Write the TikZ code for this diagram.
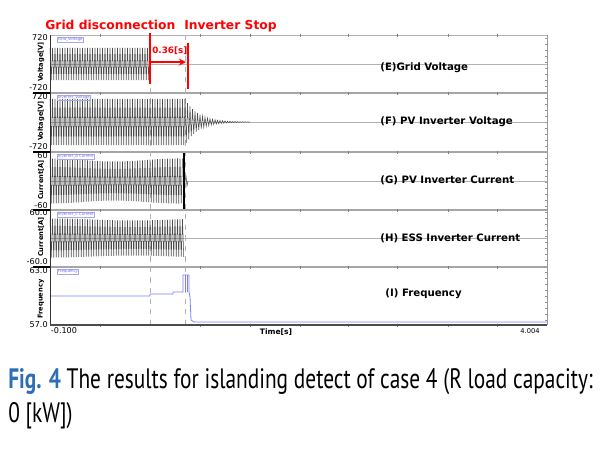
\documentclass[tikz,border=0pt]{standalone}
\usepackage{fontspec}
\setmainfont{DejaVu Sans}
\newfontfamily\capfont[FakeStretch=0.76]{PT Sans}
\usetikzlibrary{arrows,positioning}
\definecolor{figblue}{RGB}{46,110,180}
\definecolor{freqblue}{RGB}{125,125,255}
\definecolor{legblue}{RGB}{110,110,230}

\begin{document}
\begin{tikzpicture}[x=0.02cm, y=-0.02cm, >=stealth]
	\tikzstyle{redlab} = [text=red, font=\bfseries\fontsize{7}{8}\selectfont, inner sep=0pt]
	\tikzstyle{trace} = [font=\bfseries\fontsize{5.8}{6}\selectfont, inner sep=0pt, anchor=base west]
	\tikzstyle{ylab} = [font=\bfseries\fontsize{3.8}{4}\selectfont, inner sep=0pt, rotate=90]
	\tikzstyle{ynum} = [font=\fontsize{4.6}{5}\selectfont, inner sep=0pt, anchor=east]
	\tikzstyle{legend} = [draw=legblue!60, text=legblue, font=\fontsize{2.2}{2.5}\selectfont, inner sep=0.4pt, anchor=north west]
	\tikzstyle{wave} = [black!70, line width=0.3pt]
	\tikzstyle{sep} = [gray!70, line width=0.9pt]
	\tikzstyle{zero} = [gray!60, line width=0.4pt]
	\tikzstyle{redmark} = [red, line width=1.2pt]
	\useasboundingbox (0,0) rectangle (605,450);

	% frame and panel separators
	\draw[gray!60, line width=0.4pt] (50,35) -- (547,35);
	\draw[gray!80, line width=0.5pt] (547,35) -- (547,325);
	\foreach \y in {93,152,210,267} {
	  \draw[sep] (50,\y) -- (547,\y);
	  \draw[black, line width=0.6pt] (33,\y) -- (50,\y);
	}
	\foreach \y in {64,122,181,238}
	  \draw[zero] (50,\y) -- (547,\y);
	\foreach \x in {100,200,250,300,348,397,448,497}
	  \foreach \y in {35,93,152,210,267,325}
	    \draw[gray, line width=0.4pt] (\x,\y-1.5) -- (\x,\y+1.5);
	\foreach \y in {38,44,...,322}
	  \draw[gray!80, line width=0.3pt] (545,\y) -- (547,\y);
	\draw[gray!60, dashed, line width=0.3pt] (150,35) -- (150,325);
	\draw[gray!60, dashed, line width=0.3pt] (185,35) -- (185,325);

	% (E) grid voltage
	\draw[wave] plot[domain=0:80, samples=81, variable=\k] ({50+1.25*\k}, {64-16*cos(180*mod(\k,2))});
	% (F) PV inverter voltage
	\draw[wave] plot[domain=0:108, samples=109, variable=\k] ({50+1.25*\k}, {122-23*cos(180*mod(\k,2))});
	\draw[wave] plot[domain=108:160, samples=53, variable=\k] ({50+1.25*\k}, {122-23*exp(-(1.25*\k-135)/13)*cos(180*mod(\k,2))});
	% (G) PV inverter current
	\draw[wave] plot[domain=0:106, samples=107, variable=\k] ({50+1.25*\k}, {181-(21+1.5*cos(3.5*\k))*cos(180*mod(\k,2))});
	\draw[black, line width=0.7pt] (184,153) -- (184,209);
	\draw[wave] (185,181) -- (186,176) -- (187,186) -- (188,181);
	% (H) ESS inverter current
	\draw[wave] plot[domain=0:107, samples=108, variable=\k] ({50+1.25*\k}, {238-(18.5+1*cos(2.7*\k))*cos(180*mod(\k,2))});
	% (I) frequency
	\draw[freqblue, line width=0.45pt] (50,296) -- (150,296) -- (150,294) -- (173,294) -- (173,292)
	  -- (183,292) -- (183,275) -- (189,275) -- (189,292) -- (190,297) -- (191,320) -- (194,322) -- (547,322);
	\draw[freqblue, line width=0.45pt] (185,275) -- (185,292) (187,275) -- (187,292);

	% left and bottom axes
	\draw[black!80, line width=0.5pt] (50,35) -- (50,325);
	\draw[black!70, line width=0.6pt] (50,325) -- (547,325);

	% legend boxes
	\path
	node[legend] (legE) at (57,37) {Grid\_Voltage}
	node[legend] (legF) at (57,95) {Inverter\_Voltage}
	node[legend] (legG) at (57,154) {Inverter\_A Current}
	node[legend] (legH) at (57,212) {Inverter\_C Current}
	node[legend] (legI) at (57,269) {Frequency}
	;

	% axis numbers and titles
	\path
	node[ynum] (eTop) at (48,38) {720}
	node[ynum] (eBot) at (48,88) {-720}
	node[ynum] (fTop) at (48,97) {720}
	node[ynum] (fBot) at (48,147) {-720}
	node[ynum] (gTop) at (48,156) {60}
	node[ynum] (gBot) at (48,206) {-60}
	node[ynum] (hTop) at (48,213) {60.0}
	node[ynum] (hBot) at (48,262) {-60.0}
	node[ynum] (iTop) at (48,271) {63.0}
	node[ynum] (iBot) at (48,325) {57.0}
	node[ylab] (eY) at (41,62) {Voltage[V]}
	node[ylab] (fY) at (41,121) {Voltage[V]}
	node[ylab] (gY) at (41,180) {Current[A]}
	node[ylab] (hY) at (41,237) {Current[A]}
	node[ylab] (iY) at (41,299) {Frequency}
	node[ynum, anchor=center] (tMin) at (64,331) {-0.100}
	node[ynum, anchor=center, font=\bfseries\fontsize{4.3}{5}\selectfont] (tLab) at (276,332) {Time[s]}
	node[ynum, anchor=center, font=\fontsize{3.8}{4}\selectfont] (tMax) at (530,331) {4.004}
	;

	% trace names
	\path
	node[trace] (nE) at (380,70) {(E)Grid Voltage}
	node[trace] (nF) at (380,124) {(F) PV Inverter Voltage}
	node[trace] (nG) at (380,183) {(G) PV Inverter Current}
	node[trace] (nH) at (380,241) {(H) ESS Inverter Current}
	node[trace] (nI) at (385,296) {(I) Frequency}
	;

	% disconnection and stop markers
	\coordinate (discTop) at (150,33);
	\coordinate (discBot) at (150,84);
	\coordinate (stopTop) at (188,43);
	\coordinate (stopBot) at (188,89);
	\coordinate (arrL) at (151,62);
	\coordinate (arrR) at (186,62);
	\draw[redmark] (discTop) -- (discBot);
	\draw[redmark] (stopTop) -- (stopBot);
	\draw[red, line width=0.8pt, ->] (arrL) -- (arrR);
	\path
	node[redlab, anchor=base west] (gridDisc) at (45,29) {Grid disconnection}
	node[redlab, anchor=base west] (invStop) at (184,29) {Inverter Stop}
	node[redlab, anchor=base west, font=\bfseries\fontsize{5}{6}\selectfont] (delay) at (152,53) {0.36[s]}
	;

	% caption
	\path
	node[anchor=base west, inner sep=0pt, font=\capfont\fontsize{16}{20}\selectfont] (cap1) at (8,388)
	  {{\color{figblue}\bfseries Fig. 4} The results for islanding detect of case 4 (R load capacity:}
	node[anchor=base west, inner sep=0pt, font=\capfont\fontsize{16}{20}\selectfont] (cap2) at (8,422)
	  {0 [kW])}
	;
\end{tikzpicture}
\end{document}
